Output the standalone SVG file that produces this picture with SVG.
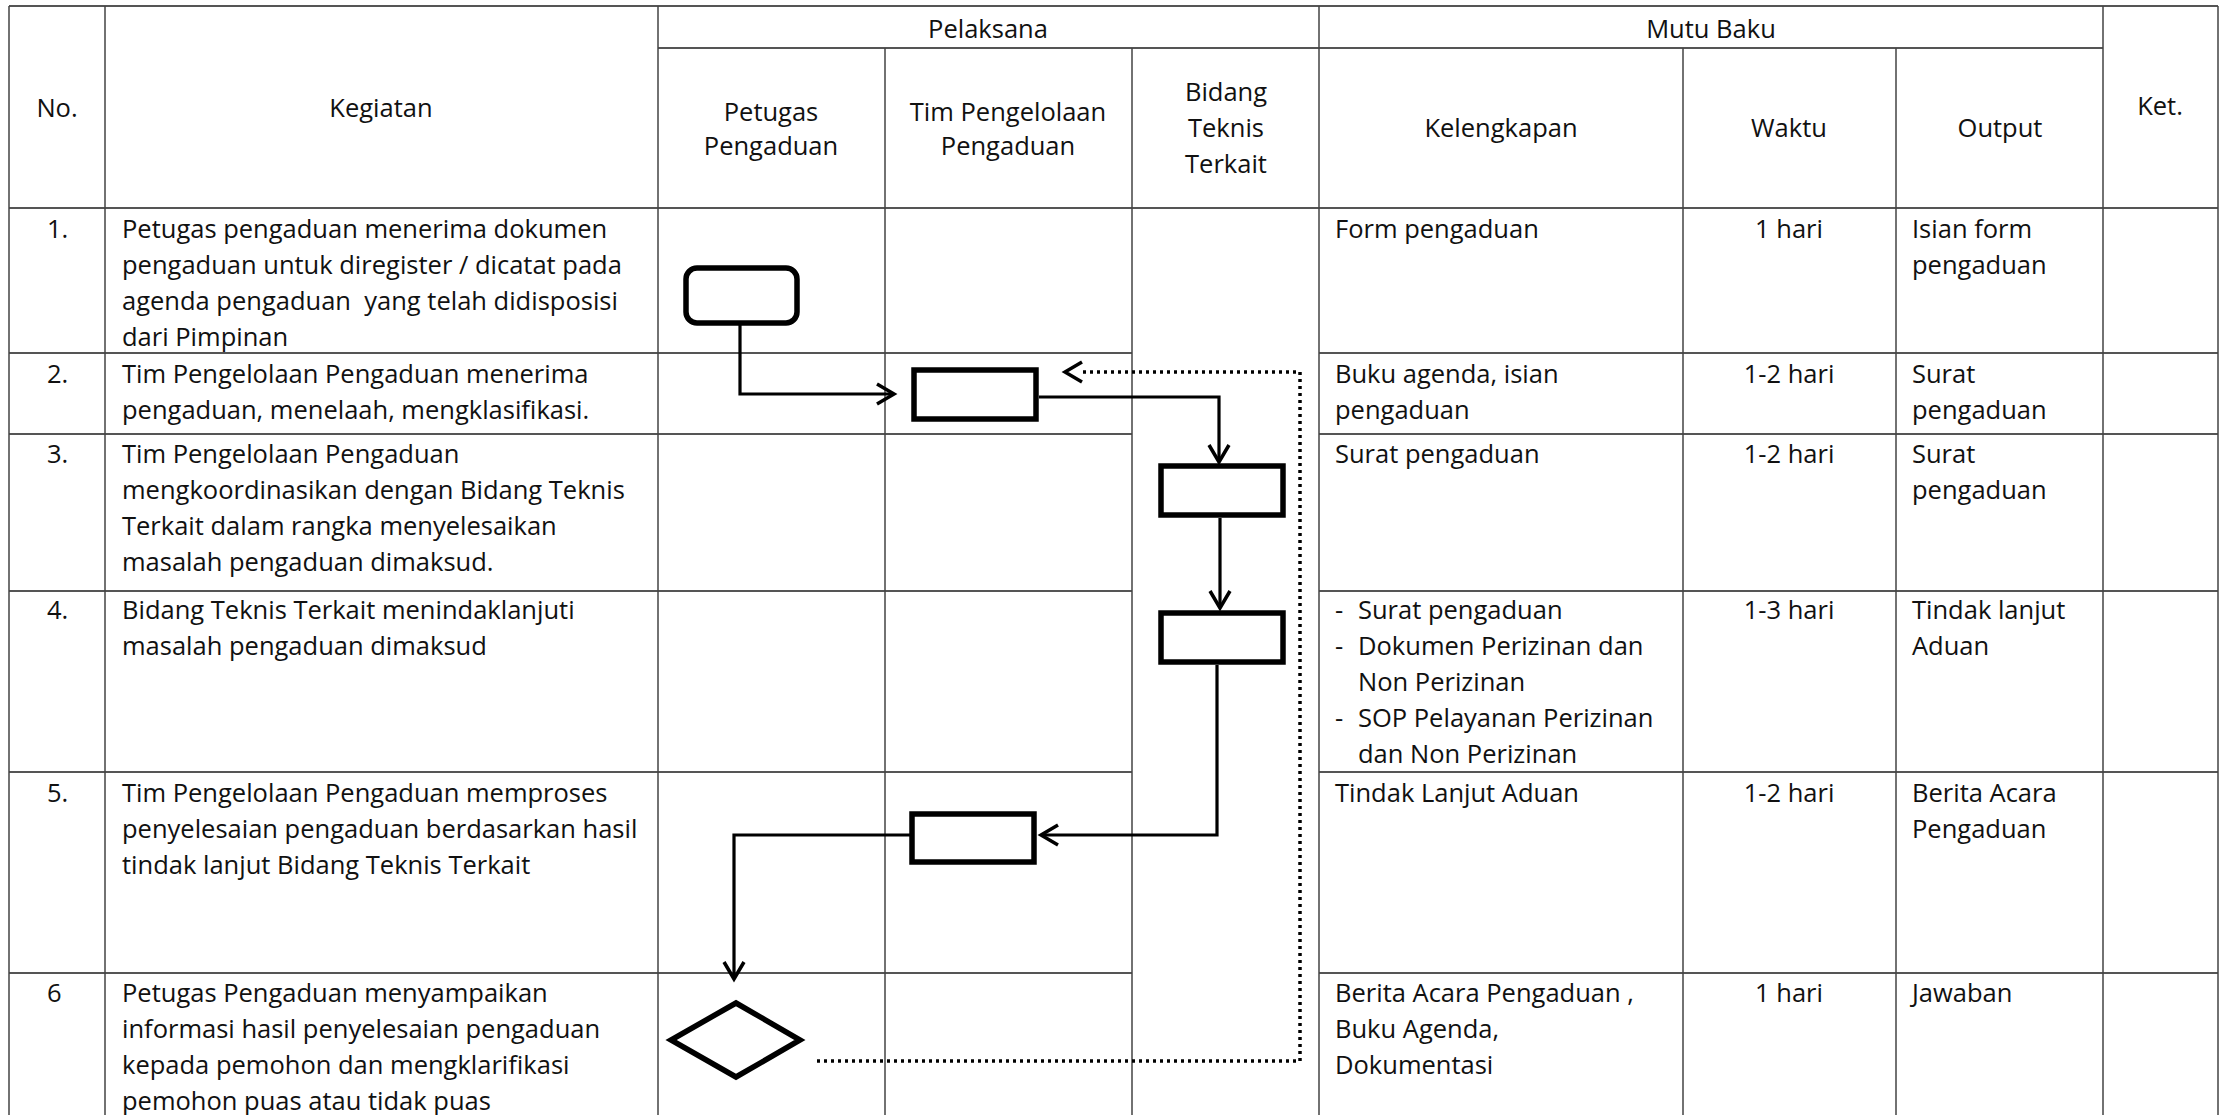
<svg xmlns="http://www.w3.org/2000/svg" width="2224" height="1115" viewBox="0 0 2224 1115">
<style>
.t{font-family:"Open Sans","Liberation Sans",sans-serif;font-size:25.5px;fill:#111}
.c{text-anchor:middle}
.gv{stroke:#444;stroke-width:1.5;fill:none}
.gh{stroke:#555;stroke-width:2;fill:none}
.box{fill:#fff;stroke:#000;stroke-width:5.5}
.ln{fill:none;stroke:#000;stroke-width:3.2}
.dot{fill:none;stroke:#000;stroke-width:3.5;stroke-dasharray:3 4}
</style>
<defs>
<marker id="ah" markerUnits="userSpaceOnUse" markerWidth="30" markerHeight="30" viewBox="-22 -15 30 30" refX="0" refY="0" orient="auto">
<path d="M-17,-10 L0,0 L-17,10" fill="none" stroke="#000" stroke-width="3.5" stroke-linejoin="miter"/>
</marker>
</defs>
<rect width="2224" height="1115" fill="#fff"/>
<g id="grid">
<path class="gh" d="M9,6H2218 M658,48H2103 M9,208H2218 M9,353H1132 M1319,353H2218 M9,434H1132 M1319,434H2218 M9,591H1132 M1319,591H2218 M9,772H1132 M1319,772H2218 M9,973H1132 M1319,973H2218"/>
<path class="gv" d="M9,6V1115 M105,6V1115 M658,6V1115 M885,48V1115 M1132,48V1115 M1319,6V1115 M1683,48V1115 M1896,48V1115 M2103,6V1115 M2218,6V1115"/>
</g>
<g id="header">
<text class="t c" x="988" y="38">Pelaksana</text>
<text class="t c" x="1711" y="38">Mutu Baku</text>
<text class="t c" x="57" y="117">No.</text>
<text class="t c" x="381" y="117">Kegiatan</text>
<text class="t c" x="2160" y="115">Ket.</text>
<text class="t c" x="771" y="121">Petugas</text>
<text class="t c" x="771" y="155">Pengaduan</text>
<text class="t c" x="1008" y="121">Tim Pengelolaan</text>
<text class="t c" x="1008" y="155">Pengaduan</text>
<text class="t c" x="1226" y="101">Bidang</text>
<text class="t c" x="1226" y="137">Teknis</text>
<text class="t c" x="1226" y="173">Terkait</text>
<text class="t c" x="1501" y="137">Kelengkapan</text>
<text class="t c" x="1789" y="137">Waktu</text>
<text class="t c" x="2000" y="137">Output</text>
</g>
<g id="row1">
<text class="t" x="47" y="238">1.</text>
<text class="t" x="122" y="238">Petugas pengaduan menerima dokumen</text>
<text class="t" x="122" y="274">pengaduan untuk diregister / dicatat pada</text>
<text class="t" x="122" y="310" xml:space="preserve">agenda pengaduan  yang telah didisposisi</text>
<text class="t" x="122" y="346">dari Pimpinan</text>
<text class="t" x="1335" y="238">Form pengaduan</text>
<text class="t c" x="1789" y="238">1 hari</text>
<text class="t" x="1912" y="238">Isian form</text>
<text class="t" x="1912" y="274">pengaduan</text>
</g>
<g id="row2">
<text class="t" x="47" y="383">2.</text>
<text class="t" x="122" y="383">Tim Pengelolaan Pengaduan menerima</text>
<text class="t" x="122" y="419">pengaduan, menelaah, mengklasifikasi.</text>
<text class="t" x="1335" y="383">Buku agenda, isian</text>
<text class="t" x="1335" y="419">pengaduan</text>
<text class="t c" x="1789" y="383">1-2 hari</text>
<text class="t" x="1912" y="383">Surat</text>
<text class="t" x="1912" y="419">pengaduan</text>
</g>
<g id="row3">
<text class="t" x="47" y="463">3.</text>
<text class="t" x="122" y="463">Tim Pengelolaan Pengaduan</text>
<text class="t" x="122" y="499">mengkoordinasikan dengan Bidang Teknis</text>
<text class="t" x="122" y="535">Terkait dalam rangka menyelesaikan</text>
<text class="t" x="122" y="571">masalah pengaduan dimaksud.</text>
<text class="t" x="1335" y="463">Surat pengaduan</text>
<text class="t c" x="1789" y="463">1-2 hari</text>
<text class="t" x="1912" y="463">Surat</text>
<text class="t" x="1912" y="499">pengaduan</text>
</g>
<g id="row4">
<text class="t" x="47" y="619">4.</text>
<text class="t" x="122" y="619">Bidang Teknis Terkait menindaklanjuti</text>
<text class="t" x="122" y="655">masalah pengaduan dimaksud</text>
<text class="t" x="1335" y="619">-</text>
<text class="t" x="1358" y="619">Surat pengaduan</text>
<text class="t" x="1335" y="655">-</text>
<text class="t" x="1358" y="655">Dokumen Perizinan dan</text>
<text class="t" x="1358" y="691">Non Perizinan</text>
<text class="t" x="1335" y="727">-</text>
<text class="t" x="1358" y="727">SOP Pelayanan Perizinan</text>
<text class="t" x="1358" y="763">dan Non Perizinan</text>
<text class="t c" x="1789" y="619">1-3 hari</text>
<text class="t" x="1912" y="619">Tindak lanjut</text>
<text class="t" x="1912" y="655">Aduan</text>
</g>
<g id="row5">
<text class="t" x="47" y="802">5.</text>
<text class="t" x="122" y="802">Tim Pengelolaan Pengaduan memproses</text>
<text class="t" x="122" y="838">penyelesaian pengaduan berdasarkan hasil</text>
<text class="t" x="122" y="874">tindak lanjut Bidang Teknis Terkait</text>
<text class="t" x="1335" y="802">Tindak Lanjut Aduan</text>
<text class="t c" x="1789" y="802">1-2 hari</text>
<text class="t" x="1912" y="802">Berita Acara</text>
<text class="t" x="1912" y="838">Pengaduan</text>
</g>
<g id="row6">
<text class="t" x="47" y="1002">6</text>
<text class="t" x="122" y="1002">Petugas Pengaduan menyampaikan</text>
<text class="t" x="122" y="1038">informasi hasil penyelesaian pengaduan</text>
<text class="t" x="122" y="1074">kepada pemohon dan mengklarifikasi</text>
<text class="t" x="122" y="1110">pemohon puas atau tidak puas</text>
<text class="t" x="1335" y="1002">Berita Acara Pengaduan ,</text>
<text class="t" x="1335" y="1038">Buku Agenda,</text>
<text class="t" x="1335" y="1074">Dokumentasi</text>
<text class="t c" x="1789" y="1002">1 hari</text>
<text class="t" x="1912" y="1002">Jawaban</text>
</g>
<g id="connectors">
<path class="ln" d="M740,323 V394 H894" marker-end="url(#ah)"/>
<path class="ln" d="M1039,397 H1219 V462" marker-end="url(#ah)"/>
<path class="ln" d="M1220,518 V608" marker-end="url(#ah)"/>
<path class="ln" d="M1217,665 V835 H1041" marker-end="url(#ah)"/>
<path class="ln" d="M912,835 H734 V979" marker-end="url(#ah)"/>
<path class="dot" d="M817,1061 H1300 V372 H1082"/>
<path d="M1082,362 L1065,372 L1082,382" fill="none" stroke="#000" stroke-width="3.5"/>
</g>
<g id="node-start"><rect class="box" x="686" y="268" width="111" height="55" rx="11" stroke-width="5"/></g>
<g id="node-terima"><rect class="box" x="914" y="370" width="122" height="49"/></g>
<g id="node-koordinasi"><rect class="box" x="1161" y="466" width="122" height="49"/></g>
<g id="node-tindaklanjut"><rect class="box" x="1161" y="613" width="122" height="49"/></g>
<g id="node-proses"><rect class="box" x="912" y="814" width="122" height="48"/></g>
<g id="node-keputusan"><polygon class="box" points="736,1003 800,1040 736,1077 671,1040" stroke-width="4.5"/></g>
</svg>
